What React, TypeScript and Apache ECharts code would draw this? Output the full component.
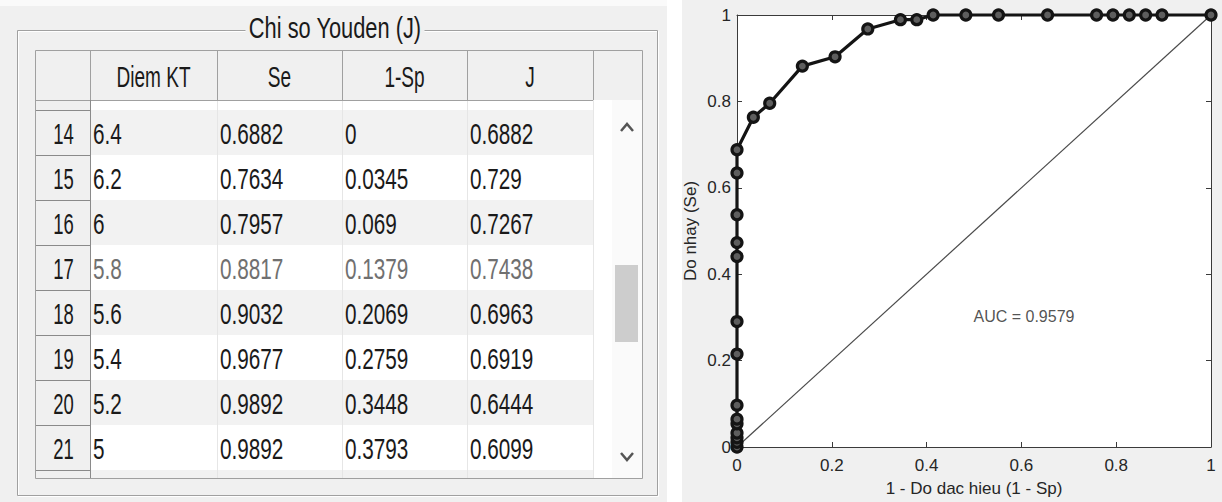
import React, { useEffect, useRef } from 'react';
import * as echarts from 'echarts';

// ---------- data ----------
const tableTitle = 'Chi so Youden (J)';
const columnHeaders = ['Diem KT', 'Se', '1-Sp', 'J'];
const rowNumbers = [14, 15, 16, 17, 18, 19, 20, 21];
const cutoffScores = [6.4, 6.2, 6, 5.8, 5.6, 5.4, 5.2, 5];
const sensitivity = [0.6882, 0.7634, 0.7957, 0.8817, 0.9032, 0.9677, 0.9892, 0.9892];
const falsePositiveRate = [0, 0.0345, 0.069, 0.1379, 0.2069, 0.2759, 0.3448, 0.3793];
const youdenIndex = [0.6882, 0.729, 0.7267, 0.7438, 0.6963, 0.6919, 0.6444, 0.6099];

const rocX = [
  0, 0, 0, 0, 0, 0, 0, 0, 0, 0, 0, 0, 0, 0,
  0.0345, 0.069, 0.1379, 0.2069, 0.2759, 0.3448, 0.3793,
  0.4138, 0.4828, 0.5517, 0.6552, 0.7586, 0.7931, 0.8276, 0.8621, 0.8966, 1,
];
const rocY = [
  0, 0.0108, 0.0215, 0.0323, 0.0538, 0.0645, 0.0968, 0.2151, 0.2903, 0.4409, 0.4731, 0.5376, 0.6344, 0.6882,
  0.7634, 0.7957, 0.8817, 0.9032, 0.9677, 0.9892, 0.9892,
  1, 1, 1, 1, 1, 1, 1, 1, 1, 1,
];
const chanceLineX = [0, 1];
const chanceLineY = [0, 1];
const xTickLabels = ['0', '0.2', '0.4', '0.6', '0.8', '1'];
const yTickLabels = ['0', '0.2', '0.4', '0.6', '0.8', '1'];
const aucText = 'AUC = 0.9579';
const aucAnchor = [0.5, 0.3];
const xAxisTitle = '1 - Do dac hieu (1 - Sp)';
const yAxisTitle = 'Do nhay (Se)';
const dimmedRow = 3;

// ---------- layout ----------
const FONT = '"Liberation Sans", Arial, Helvetica, sans-serif';
const TBL = {
  left: 35,
  top: 50,
  right: 642,
  bottom: 478,
  headerBottom: 100,
  firstRowTop: 110,
  rowH: 45,
  colEdges: [90, 217, 342, 467, 593],
};

function txt(x: number, y: number, text: string, o: any = {}) {
  return {
    type: 'text',
    x,
    y,
    scaleX: o.scaleX ?? 0.74,
    scaleY: o.scaleY ?? 1.08,
    z2: o.z2 ?? 20,
    silent: true,
    style: {
      text,
      fill: o.fill ?? '#1a1a1a',
      fontSize: o.fontSize ?? 28,
      fontFamily: FONT,
      align: o.align ?? 'left',
      textAlign: o.align ?? 'left',
      verticalAlign: 'middle',
      textVerticalAlign: 'middle',
      backgroundColor: o.bg,
      padding: o.padding,
    },
  };
}

function line(x1: number, y1: number, x2: number, y2: number, stroke: string, z2 = 10, lw = 1) {
  return {
    type: 'line',
    silent: true,
    z2,
    shape: { x1, y1, x2, y2 },
    style: { stroke, lineWidth: lw },
  };
}

function rect(x: number, y: number, w: number, h: number, fill: string, z2 = 1, stroke?: string) {
  return {
    type: 'rect',
    silent: true,
    z2,
    shape: { x, y, width: w, height: h },
    style: { fill, stroke: stroke ?? 'none', lineWidth: 1 },
  };
}

function buildTable(): any[] {
  const els: any[] = [];
  const e = TBL.colEdges;
  // gap between panels and top margin of left panel
  els.push(rect(667, 0, 15, 502, '#ffffff', 0));
  els.push(rect(0, 0, 667, 6, '#fafafa', 0));
  // group box (etched)
  els.push(rect(18.5, 31.5, 640, 465, 'none', 2, '#ffffff'));
  els.push(rect(17.5, 30.5, 640, 465, 'none', 2, '#a0a0a0'));
  // table background
  els.push(rect(TBL.left, TBL.top, TBL.right - TBL.left, TBL.bottom - TBL.top, '#ffffff', 3));
  // header band
  els.push(rect(TBL.left, TBL.top, TBL.right - TBL.left, TBL.headerBottom - TBL.top, '#f0f0f0', 4));
  // row header column
  els.push(rect(TBL.left, TBL.headerBottom, e[0] - TBL.left, TBL.bottom - TBL.headerBottom, '#f0f0f0', 4));
  // scroll track
  els.push(rect(612, TBL.headerBottom, TBL.right - 612, TBL.bottom - TBL.headerBottom, '#fafafa', 4));
  // stripes
  rowNumbers.forEach((_, i) => {
    const y = TBL.firstRowTop + i * TBL.rowH;
    els.push(rect(e[0], y, e[4] - e[0], TBL.rowH, i % 2 === 0 ? '#f2f2f2' : '#ffffff', 5));
  });
  const lastBottom = TBL.firstRowTop + rowNumbers.length * TBL.rowH;
  els.push(rect(e[0], lastBottom, e[4] - e[0], TBL.bottom - lastBottom, rowNumbers.length % 2 === 0 ? '#f2f2f2' : '#ffffff', 5));
  // faint column separators in body
  for (let c = 1; c < e.length; c++) {
    els.push(line(e[c] + 0.5, TBL.headerBottom, e[c] + 0.5, TBL.bottom, '#e6e6e6', 6));
  }
  // header separators
  for (let c = 0; c < e.length; c++) {
    els.push(line(e[c] + 0.5, TBL.top, e[c] + 0.5, TBL.headerBottom, '#a0a0a0', 8));
  }
  els.push(line(TBL.left, TBL.headerBottom + 0.5, e[4], TBL.headerBottom + 0.5, '#a0a0a0', 8));
  // row header lines
  els.push(line(e[0] + 0.5, TBL.headerBottom, e[0] + 0.5, TBL.bottom, '#8a8a8a', 8));
  for (let i = 0; i <= rowNumbers.length; i++) {
    const y = TBL.firstRowTop + i * TBL.rowH + 0.5;
    els.push(line(TBL.left, y, e[0], y, '#8a8a8a', 8));
  }
  // table border
  els.push(rect(TBL.left + 0.5, TBL.top + 0.5, TBL.right - TBL.left, TBL.bottom - TBL.top, 'none', 9, '#a0a0a0'));
  // scrollbar
  els.push(rect(615, 265, 23, 77, '#cdcdcd', 10));
  els.push({
    type: 'polyline', silent: true, z2: 11,
    shape: { points: [[621, 131], [627, 124], [633, 131]] },
    style: { stroke: '#555555', lineWidth: 2.5, fill: 'none' },
  });
  els.push({
    type: 'polyline', silent: true, z2: 11,
    shape: { points: [[621, 453], [627, 460], [633, 453]] },
    style: { stroke: '#555555', lineWidth: 2.5, fill: 'none' },
  });
  // header texts
  columnHeaders.forEach((h, c) => {
    els.push(txt((e[c] + e[c + 1]) / 2, (TBL.top + TBL.headerBottom) / 2 + 1, h, { align: 'center', scaleX: 0.68 }));
  });
  // body texts
  rowNumbers.forEach((rn, i) => {
    const y = TBL.firstRowTop + i * TBL.rowH + TBL.rowH / 2 + 1;
    const fill = i === dimmedRow ? '#707070' : '#1a1a1a';
    els.push(txt((TBL.left + e[0]) / 2 + 1, y, String(rn), { align: 'center', scaleX: 0.66 }));
    const vals = [cutoffScores[i], sensitivity[i], falsePositiveRate[i], youdenIndex[i]];
    vals.forEach((v, c) => {
      els.push(txt(e[c] + 3, y, String(v), { fill }));
    });
  });
  // title
  els.push(txt(335, 28, tableTitle, { align: 'center', scaleX: 0.78, bg: '#f0f0f0', padding: [0, 4], z2: 30 }));
  return els;
}

export default function App() {
  const ref = useRef<HTMLDivElement>(null);
  useEffect(() => {
    if (!ref.current) return;
    const chart = echarts.init(ref.current, undefined, { renderer: 'svg' });
    const axisColor = '#3a3a3a';
    const labelColor = '#262626';
    const baseAxis = {
      type: 'value' as const,
      min: 0,
      max: 1,
      interval: 0.2,
      splitLine: { show: false },
      axisLine: { show: true, onZero: false, lineStyle: { color: axisColor, width: 1 } },
      axisTick: { show: true, inside: true, length: 5, lineStyle: { color: axisColor } },
    };
    chart.setOption({
      animation: false,
      backgroundColor: '#f0f0f0',
      textStyle: { fontFamily: FONT },
      grid: {
        left: 737,
        top: 15,
        width: 474,
        height: 433,
        show: true,
        backgroundColor: '#ffffff',
        borderWidth: 0,
      },
      xAxis: [
        {
          ...baseAxis,
          position: 'bottom',
          axisLabel: {
            color: labelColor,
            fontSize: 17,
            margin: 10,
            formatter: (v: number) => xTickLabels[Math.round(v / 0.2)],
          },
          name: xAxisTitle,
          nameLocation: 'middle',
          nameGap: 33,
          nameTextStyle: { color: labelColor, fontSize: 17 },
        },
        { ...baseAxis, position: 'top', axisLabel: { show: false } },
      ],
      yAxis: [
        {
          ...baseAxis,
          position: 'left',
          axisLabel: {
            color: labelColor,
            fontSize: 17,
            margin: 6,
            formatter: (v: number) => yTickLabels[Math.round(v / 0.2)],
          },
          name: yAxisTitle,
          nameLocation: 'middle',
          nameGap: 38,
          nameTextStyle: { color: labelColor, fontSize: 17 },
        },
        { ...baseAxis, position: 'right', axisLabel: { show: false } },
      ],
      series: [
        {
          type: 'line',
          data: chanceLineX.map((x, i) => [x, chanceLineY[i]]),
          showSymbol: false,
          symbol: 'none',
          lineStyle: { color: '#4a4a4a', width: 1.2 },
          clip: false,
          silent: true,
          z: 2,
        },
        {
          type: 'line',
          data: rocX.map((x, i) => [x, rocY[i]]),
          symbol: 'circle',
          symbolSize: 10,
          itemStyle: { color: '#5e5e5e', borderColor: '#141414', borderWidth: 3.2 },
          lineStyle: { color: '#141414', width: 3.2 },
          clip: false,
          silent: true,
          z: 3,
        },
        {
          type: 'scatter',
          data: [aucAnchor],
          symbol: 'circle',
          symbolSize: 1,
          itemStyle: { color: 'rgba(0,0,0,0)' },
          silent: true,
          label: {
            show: true,
            position: [0, 0],
            align: 'left',
            verticalAlign: 'middle',
            formatter: aucText,
            fontSize: 16,
            color: labelColor,
            fontFamily: FONT,
          },
          z: 4,
        },
      ],
      graphic: { elements: buildTable() },
    });
    return () => chart.dispose();
  }, []);
  return (
    <div
      ref={ref}
      style={{ position: 'fixed', left: 0, top: 0, width: 1222, height: 502 }}
    />
  );
}
